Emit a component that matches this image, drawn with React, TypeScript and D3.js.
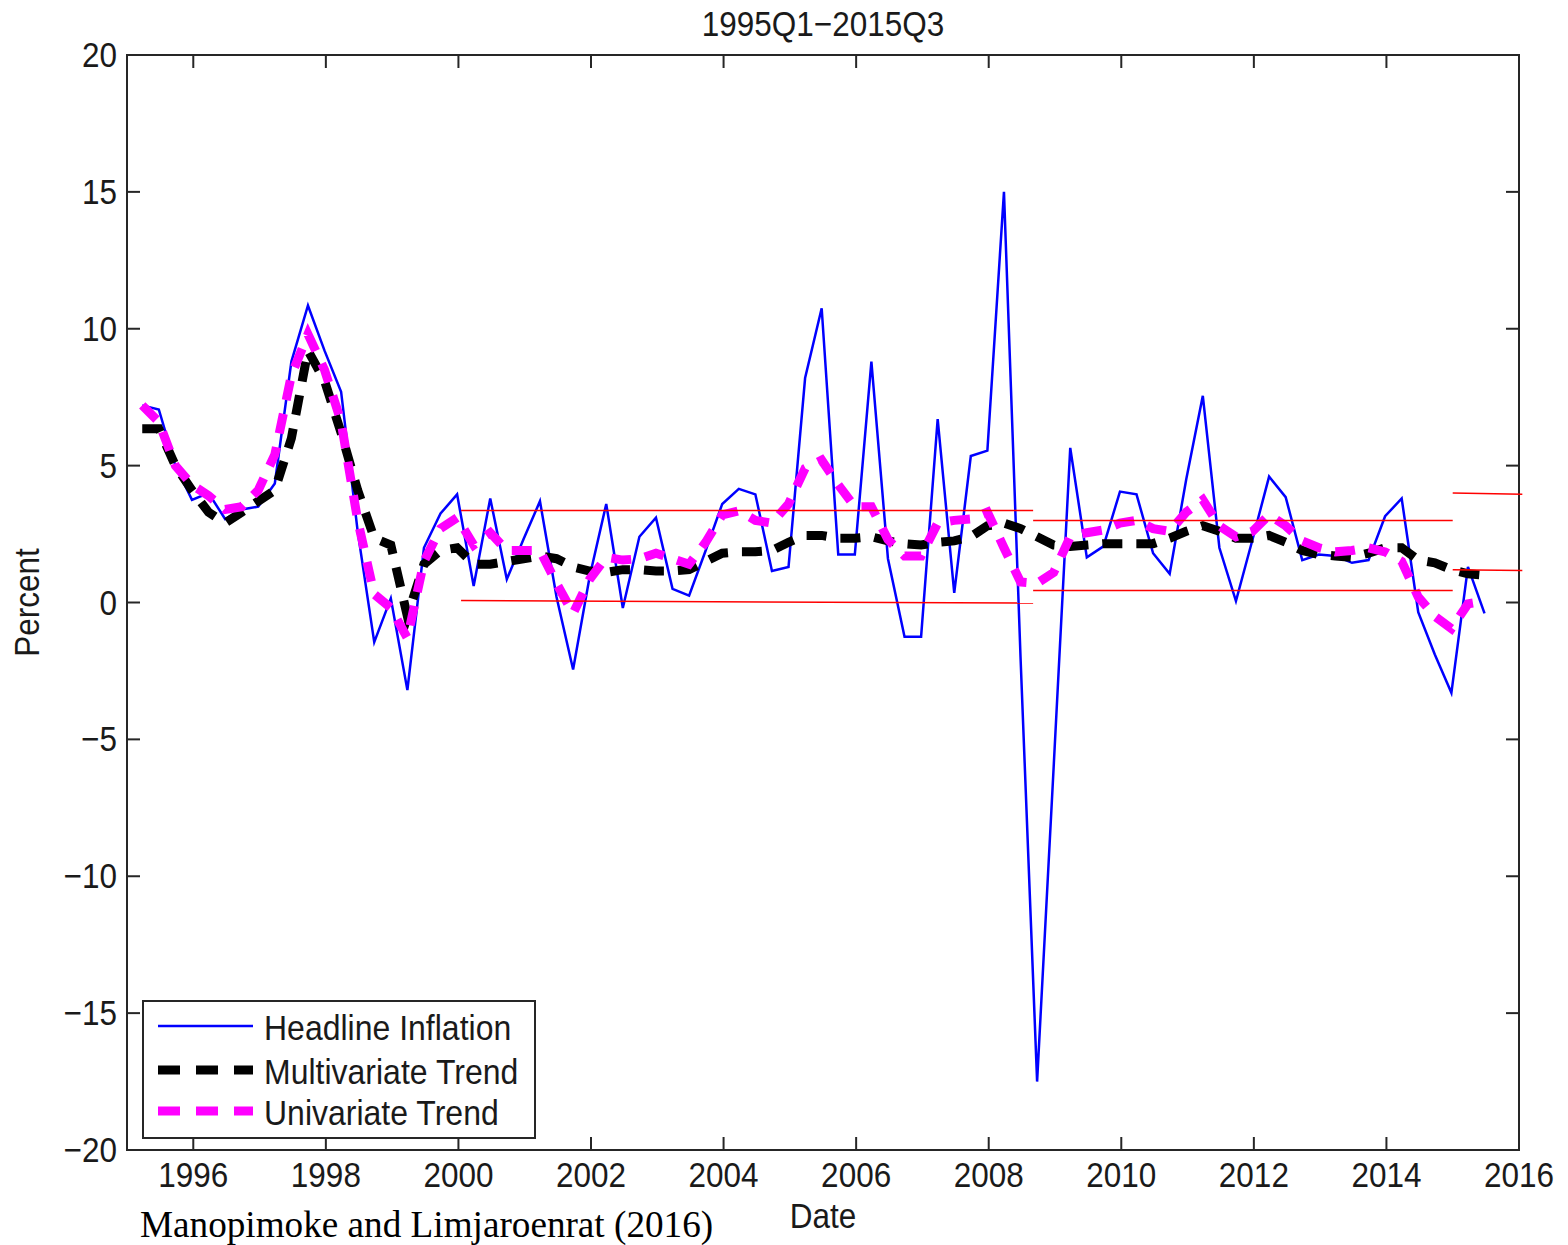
import React from "react";
import * as d3 from "d3";

const startYear = 1995.23;
const headline = [7.2, 7.05, 5.0, 3.75, 4.0, 3.05, 3.4, 3.5, 4.35, 8.8, 10.85, 9.2, 7.7, 2.6, -1.45, 0.15, -3.2, 2.0, 3.25, 3.95,
  0.6, 3.8, 0.85, 2.3, 3.7, 0.2, -2.45, 0.95, 3.6, -0.2, 2.4, 3.1, 0.5, 0.25, 1.9, 3.6, 4.15, 3.95, 1.15, 1.3,
  8.2, 10.75, 1.75, 1.75, 8.8, 1.6, -1.25, -1.25, 6.7, 0.35, 5.35, 5.55, 15.0, -2.0, -17.5, -6.0, 5.65, 1.65, 2.05, 4.05,
  3.95, 1.8, 1.05, 4.5, 7.55, 2.0, 0.05, 2.3, 4.6, 3.85, 1.55, 1.75, 1.7, 1.45, 1.55, 3.15, 3.8, -0.35, -1.9, -3.3,
  1.3, -0.4];
const multivariate = [6.35, 6.35, 5.0, 4.1, 3.3, 2.9, 3.3, 3.7, 4.1, 6.0, 9.2, 8.1, 6.2, 4.1, 2.35, 2.1, -0.5, 1.4, 1.9, 2.0,
  1.4, 1.4, 1.5, 1.6, 1.7, 1.6, 1.3, 1.15, 1.1, 1.2, 1.2, 1.15, 1.15, 1.2, 1.5, 1.8, 1.85, 1.85, 1.9, 2.2,
  2.45, 2.45, 2.35, 2.35, 2.4, 2.25, 2.15, 2.1, 2.2, 2.25, 2.4, 2.8, 2.9, 2.7, 2.4, 2.1, 2.05, 2.1, 2.15, 2.15,
  2.15, 2.15, 2.35, 2.6, 2.8, 2.6, 2.35, 2.35, 2.45, 2.2, 1.9, 1.75, 1.7, 1.65, 1.8, 2.0, 2.0, 1.55, 1.45, 1.2,
  1.05, 1.0];
const univariate = [7.2, 6.6, 5.0, 4.3, 3.9, 3.4, 3.5, 4.1, 5.4, 8.3, 9.8, 8.5, 6.6, 3.0, 0.3, -0.2, -1.3, 1.5, 2.7, 3.1,
  2.1, 2.55, 1.9, 1.9, 1.9, 0.7, -0.4, 0.85, 1.65, 1.55, 1.6, 1.8, 1.6, 1.4, 2.2, 3.2, 3.35, 3.0, 2.9, 3.6,
  4.9, 5.2, 4.3, 3.5, 3.5, 2.3, 1.7, 1.7, 2.9, 3.0, 3.05, 3.3, 2.0, 0.75, 0.7, 1.1, 2.4, 2.55, 2.65, 2.9,
  3.0, 2.7, 2.6, 3.3, 3.75, 2.8, 2.4, 2.6, 3.2, 2.8, 2.25, 2.0, 1.85, 1.9, 2.0, 1.85, 1.5, 0.2, -0.5, -0.95,
  -0.05, 0.05];

const bandStart = [2000.04, 2008.67, 2015.0];
const bandEnd = [2008.67, 2015.0, 2016.05];
const bandUpperL = [3.36, 3.0, 4.0];
const bandUpperR = [3.36, 3.0, 3.95];
const bandLowerL = [0.07, 0.44, 1.2];
const bandLowerR = [-0.02, 0.44, 1.17];

const xTicks = [1996, 1998, 2000, 2002, 2004, 2006, 2008, 2010, 2012, 2014, 2016];
const yTicks = [-20, -15, -10, -5, 0, 5, 10, 15, 20];
const legendLabels = ["Headline Inflation", "Multivariate Trend", "Univariate Trend"];
const title = "1995Q1\u22122015Q3";

const L = 127, R = 1519, T = 55, B = 1150;
const FONT = "'Liberation Sans', Arial, Helvetica, sans-serif";
const AX = "#262626";

function STxt({ x, y, anchor = "middle", size = 31.5, children, rotate = 0 }: any) {
  return (
    <text
      transform={`translate(${x},${y}) rotate(${rotate}) scale(1,1.12)`}
      textAnchor={anchor}
      fontFamily={FONT}
      fontSize={size}
      fill="#1a1a1a"
    >
      {children}
    </text>
  );
}

export default function App() {
  const x = d3.scaleLinear().domain([1995, 2016]).range([L, R]);
  const y = d3.scaleLinear().domain([-20, 20]).range([B, T]);
  const t = (i: number) => startYear + i * 0.25;
  const line = d3.line<number>().x((_, i) => x(t(i))).y((d) => y(d));
  const fmt = (v: number) => (v < 0 ? "\u2212" + Math.abs(v) : String(v));
  const tickLen = 13;

  const legendY = [1026, 1070, 1111];
  const legendStyles = [
    { stroke: "#0000ff", width: 2.5, dash: undefined },
    { stroke: "#000000", width: 9, dash: "22 16" },
    { stroke: "#ff00ff", width: 9, dash: "22 16" },
  ];

  return (
    <svg width={1568} height={1245} style={{ position: "absolute", left: 0, top: 0, background: "#fff" }}>
      <rect x={0} y={0} width={1568} height={1245} fill="#fff" />
      <rect x={L} y={T} width={R - L} height={B - T} fill="none" stroke={AX} strokeWidth={2} />
      {xTicks.map((v) => (
        <g key={"xt" + v}>
          <line x1={x(v)} x2={x(v)} y1={B} y2={B - tickLen} stroke={AX} strokeWidth={2} />
          <line x1={x(v)} x2={x(v)} y1={T} y2={T + tickLen} stroke={AX} strokeWidth={2} />
          <STxt x={x(v)} y={1187}>{String(v)}</STxt>
        </g>
      ))}
      {yTicks.map((v) => (
        <g key={"yt" + v}>
          <line x1={L} x2={L + tickLen} y1={y(v)} y2={y(v)} stroke={AX} strokeWidth={2} />
          <line x1={R} x2={R - tickLen} y1={y(v)} y2={y(v)} stroke={AX} strokeWidth={2} />
          <STxt x={117} y={y(v) + 12} anchor="end">{fmt(v)}</STxt>
        </g>
      ))}
      <STxt x={(L + R) / 2} y={36}>{title}</STxt>
      <STxt x={(L + R) / 2} y={1228}>Date</STxt>
      <STxt x={39} y={(T + B) / 2} rotate={-90}>Percent</STxt>

      <path d={line(headline) || ""} fill="none" stroke="#0000ff" strokeWidth={2.5} strokeLinejoin="miter" />
      <path d={line(multivariate) || ""} fill="none" stroke="#000000" strokeWidth={9} strokeDasharray="20 14" />
      <path d={line(univariate) || ""} fill="none" stroke="#ff00ff" strokeWidth={9} strokeDasharray="20 14" />

      {bandStart.map((s, i) => (
        <g key={"band" + i}>
          <line x1={x(s)} x2={x(bandEnd[i])} y1={y(bandUpperL[i])} y2={y(bandUpperR[i])} stroke="#ff0000" strokeWidth={1.5} />
          <line x1={x(s)} x2={x(bandEnd[i])} y1={y(bandLowerL[i])} y2={y(bandLowerR[i])} stroke="#ff0000" strokeWidth={1.5} />
        </g>
      ))}

      <rect x={143} y={1001} width={392} height={137} fill="#fff" stroke={AX} strokeWidth={2} />
      {legendLabels.map((lab, i) => (
        <g key={"lg" + i}>
          <line x1={158} x2={253} y1={legendY[i]} y2={legendY[i]} stroke={legendStyles[i].stroke}
            strokeWidth={legendStyles[i].width} strokeDasharray={legendStyles[i].dash} />
          <STxt x={264} y={legendY[i] + 14} anchor="start" size={32}>{lab}</STxt>
        </g>
      ))}

      <text x={140} y={1237} fontFamily="'Liberation Serif', 'Times New Roman', serif" fontSize={37.2} fill="#000">
        Manopimoke and Limjaroenrat (2016)
      </text>
    </svg>
  );
}
